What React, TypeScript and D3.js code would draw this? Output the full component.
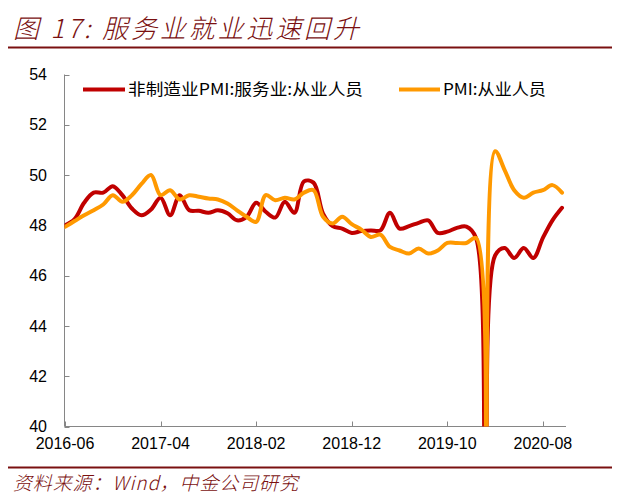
import React from "react";
import * as d3 from "d3";

const tickLabels = ["2016-06", "2017-04", "2018-02", "2018-12", "2019-10", "2020-08"];
const tickIndex = [0, 10, 20, 30, 40, 50];
const yTicks = [40, 42, 44, 46, 48, 50, 52, 54];

const seriesNames = ["非制造业PMI:服务业:从业人员", "PMI:从业人员"];

const servicesEmployment = [
  48.0, 48.25, 48.9, 49.3, 49.3, 49.56, 49.2, 48.67, 48.4, 48.63,
  49.1, 48.4, 49.2, 48.6, 48.58, 48.5, 48.6, 48.48, 48.2, 48.34,
  48.9, 48.54, 48.31, 48.94, 48.5, 49.75, 49.7, 48.47, 47.97, 47.87,
  47.7, 47.77, 47.8, 47.8, 48.5, 47.87, 47.97, 48.1, 48.2, 47.7,
  47.75, 47.9, 47.95, 47.5, 37.0, 46.8, 47.1, 46.7, 47.1, 46.7,
  47.5, 48.2, 48.7,
];

const pmiEmployment = [
  47.94, 48.17, 48.4, 48.6, 48.83, 49.2, 48.94, 49.2, 49.65, 50.0,
  49.2, 49.4, 49.03, 49.2, 49.14, 49.07, 49.03, 48.87, 48.6, 48.34,
  48.14, 49.2, 49.0, 49.1, 49.03, 49.3, 49.4, 48.34, 48.07, 48.34,
  48.05, 47.83, 47.54, 47.63, 47.14, 47.0, 46.88, 47.08, 46.88, 47.0,
  47.3, 47.3, 47.3, 47.5, 31.8, 50.95, 50.2, 49.4, 49.1, 49.3,
  49.4, 49.6, 49.3,
];

const colors = ["#C00000", "#FF9900"];
const darkRed = "#7A1010";

export default function App() {
  const W = 620;
  const H = 501;
  const left = 64.5;
  const top = 74.5;
  const bottom = 426.5;
  const right = 566;

  const x = d3.scaleLinear().domain([0, servicesEmployment.length - 1]).range([65, 562]);
  const y = d3.scaleLinear().domain([40, 54]).range([bottom, top]);

  const line = d3
    .line<number>()
    .x((_, i) => x(i))
    .y((d) => y(d))
    .curve(d3.curveCatmullRom.alpha(0.5));

  const series = [servicesEmployment, pmiEmployment];
  const axisColor = "#868686";

  return (
    <svg width={W} height={H} style={{ position: "absolute", left: 0, top: 0, background: "#fff" }}>
      <defs>
        <clipPath id="plot">
          <rect x={left} y={top - 10} width={right - left} height={bottom - top + 10} />
        </clipPath>
      </defs>
      <rect width={W} height={H} fill="#fff" />
      {/* title */}
      <text
        x={13}
        y={38}
        fontFamily="'Noto Sans CJK SC', sans-serif"
        fontStyle="italic"
        fontWeight={300}
        fontSize={26}
        fill={darkRed}
        textLength={346}
        lengthAdjust="spacing"
      >
        图 17: 服务业就业迅速回升
      </text>
      <line x1={8} x2={612} y1={47.5} y2={47.5} stroke={darkRed} strokeWidth={2} />

      {/* y axis */}
      <line x1={left} x2={left} y1={top} y2={bottom} stroke={axisColor} strokeWidth={1} />
      {yTicks.map((t) => (
        <g key={t}>
          <line x1={left} x2={left + 5} y1={Math.round(y(t)) + 0.5} y2={Math.round(y(t)) + 0.5} stroke={axisColor} />
          <text
            x={47}
            y={y(t)}
            dy="0.35em"
            textAnchor="end"
            fontFamily="'Liberation Sans', Arial, sans-serif"
            fontSize={16}
            fill="#000"
          >
            {t}
          </text>
        </g>
      ))}

      {/* x axis */}
      <line x1={left} x2={right} y1={bottom} y2={bottom} stroke={axisColor} strokeWidth={1} />
      {tickIndex.map((ti, k) => (
        <g key={ti}>
          <line
            x1={Math.round(x(ti)) + 0.5}
            x2={Math.round(x(ti)) + 0.5}
            y1={bottom}
            y2={bottom - 5}
            stroke={axisColor}
          />
          <text
            x={x(ti)}
            y={449}
            textAnchor="middle"
            fontFamily="'Liberation Sans', Arial, sans-serif"
            fontSize={16}
            fill="#000"
          >
            {tickLabels[k]}
          </text>
        </g>
      ))}

      {/* lines */}
      <g clipPath="url(#plot)">
        {series.map((s, i) => (
          <path
            key={i}
            d={line(s) || ""}
            fill="none"
            stroke={colors[i]}
            strokeWidth={4}
            strokeLinejoin="round"
            strokeLinecap="round"
          />
        ))}
      </g>

      {/* legend */}
      <line x1={83} x2={125} y1={89.5} y2={89.5} stroke={colors[0]} strokeWidth={4} />
      <text x={128} y={95} fontFamily="'Noto Sans CJK SC', sans-serif" fontSize={16} fill="#000" textLength={235} lengthAdjust="spacingAndGlyphs">
        {seriesNames[0]}
      </text>
      <line x1={399} x2={440} y1={89.5} y2={89.5} stroke={colors[1]} strokeWidth={4} />
      <text x={443} y={95} fontFamily="'Noto Sans CJK SC', sans-serif" fontSize={16} fill="#000" textLength={103} lengthAdjust="spacingAndGlyphs">
        {seriesNames[1]}
      </text>

      {/* source */}
      <line x1={8} x2={612} y1={467.5} y2={467.5} stroke={darkRed} strokeWidth={2} />
      <text
        x={13}
        y={490}
        fontFamily="'Noto Sans CJK SC', sans-serif"
        fontStyle="italic"
        fontWeight={300}
        fontSize={19}
        fill={darkRed}
        textLength={285}
        lengthAdjust="spacing"
      >
        资料来源：Wind，中金公司研究
      </text>
    </svg>
  );
}
